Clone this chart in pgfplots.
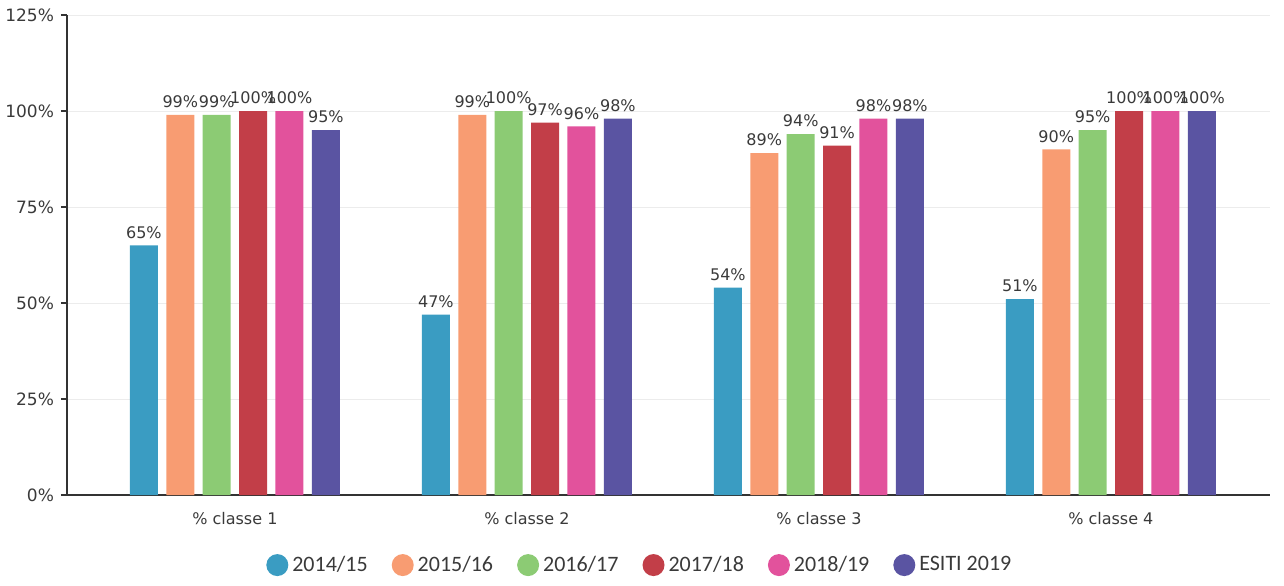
\documentclass[border=0pt]{standalone}
\usepackage{pgfplots}
\pgfplotsset{compat=1.18}
\usepackage{fontspec}
\setmainfont{DejaVu Sans}
\newfontfamily\legfont{Carlito}
\definecolor{c1}{HTML}{3A9CC2}
\definecolor{c2}{HTML}{F89C72}
\definecolor{c3}{HTML}{8CCB74}
\definecolor{c4}{HTML}{C23E48}
\definecolor{c5}{HTML}{E2529C}
\definecolor{c6}{HTML}{5A54A2}
\definecolor{txt}{HTML}{3A3A3A}
\begin{document}
\begin{tikzpicture}
\begin{axis}[
  name=ax,
  scale only axis,
  width=601.5pt, height=240pt,
  ybar=4.2pt, bar width=14pt,
  xmin=-0.575, xmax=3.545,
  ymin=0, ymax=125,
  xtick={0,1,2,3},
  xticklabels={\% classe 1,\% classe 2,\% classe 3,\% classe 4},
  x tick style={draw=none},
  ytick={0,25,50,75,100,125},
  yticklabel={\pgfmathprintnumber{\tick}\%},
  /pgf/number format/assume math mode=true,
  tick align=outside,
  y tick style={black!80, thick},
  major tick length=3pt,
  axis x line*=bottom, axis y line*=left,
  axis line style={black!80, thick},
  ymajorgrids, grid style={gray!15},
  tick label style={font=\fontsize{8.5}{10}\selectfont, text=txt},
  x tick label style={font=\fontsize{8}{10}\selectfont, text=txt, yshift=-2pt},
  nodes near coords={\pgfmathprintnumber{\pgfplotspointmeta}\%},
  nodes near coords style={font=\fontsize{8}{10}\selectfont, text=txt, /pgf/number format/assume math mode=true},
  legend columns=6,
  legend style={at={(0.477,-0.146)}, anchor=center, draw=none, fill=none,
    font=\legfont\fontsize{11}{13}\selectfont, text=txt,
    /tikz/every even column/.append style={column sep=10pt}},
  legend image code/.code={\fill[#1] (0.0cm,0cm) circle (5.5pt);},
]
\addplot[fill=c1, draw=none] coordinates {(0,65) (1,47) (2,54) (3,51)};
\addplot[fill=c2, draw=none] coordinates {(0,99) (1,99) (2,89) (3,90)};
\addplot[fill=c3, draw=none] coordinates {(0,99) (1,100) (2,94) (3,95)};
\addplot[fill=c4, draw=none] coordinates {(0,100) (1,97) (2,91) (3,100)};
\addplot[fill=c5, draw=none] coordinates {(0,100) (1,96) (2,98) (3,100)};
\addplot[fill=c6, draw=none] coordinates {(0,95) (1,98) (2,98) (3,100)};
\legend{2014/15,2015/16,2016/17,2017/18,2018/19,ESITI 2019}
\end{axis}
\pgfresetboundingbox
\path ([shift={(-33.5pt,-45pt)}]ax.south west) rectangle ([shift={(7pt,7.5pt)}]ax.north east);
\end{tikzpicture}
\end{document}
